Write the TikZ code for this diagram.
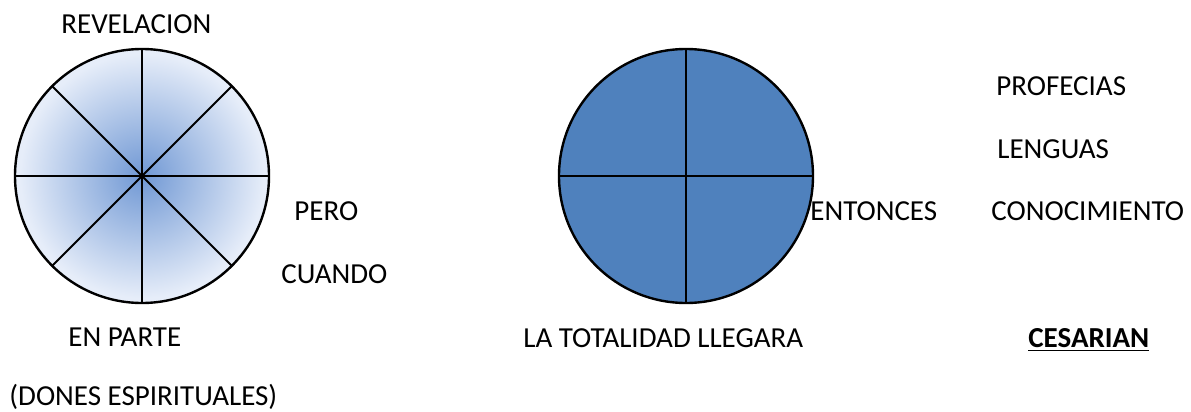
\documentclass[tikz,border=0pt]{standalone}
\usepackage{fontspec}
\setmainfont{Carlito}
\usetikzlibrary{positioning}
\definecolor{fillblue}{RGB}{79,129,189}
\definecolor{centreblue}{RGB}{112,152,212}
\definecolor{paleblue}{RGB}{230,237,249}
\pgfdeclareradialshading{partshade}{\pgfpoint{0bp}{0bp}}{color(0bp)=(centreblue); color(24bp)=(paleblue); color(50bp)=(paleblue)}

\begin{document}
\begin{tikzpicture}[x=0.5pt, y=-0.5pt, every node/.style={inner sep=0pt, anchor=base west, font=\fontsize{14.5}{17}\selectfont}]
    \useasboundingbox (0,0) rectangle (1191,412);

    \coordinate (lc) at (142,176);
    \coordinate (rc) at (686,176);

    % en parte
    \shade[shading=partshade] (lc) circle (127);
    \foreach \a in {0,45,...,315}
        \draw[line width=1pt] (lc) -- ++(\a:127);
    \draw[line width=1.2pt] (lc) circle (127);

    % la totalidad
    \fill[fillblue] (rc) circle (127);
    \foreach \a in {0,90,180,270}
        \draw[line width=1pt] (rc) -- ++(\a:127);
    \draw[line width=1.2pt] (rc) circle (127);

    \node (revel) at (61,33) {REVELACION};
    \node (pero) at (294,220) {PERO};
    \node (cuando) at (281,283) {CUANDO};
    \node (enparte) at (68,346) {EN PARTE};
    \node (dones) at (9,405) {(DONES ESPIRITUALES)};
    \node (total) at (523,347) {LA TOTALIDAD LLEGARA};
    \node (entonces) at (810,220) {ENTONCES};
    \node (conoc) at (991,220) {CONOCIMIENTO};
    \node (profe) at (996,96) {PROFECIAS};
    \node (lenguas) at (997,158) {LENGUAS};
    \node (cesar) at (1028,347) {\bfseries\underline{CESARIAN}};
\end{tikzpicture}
\end{document}
